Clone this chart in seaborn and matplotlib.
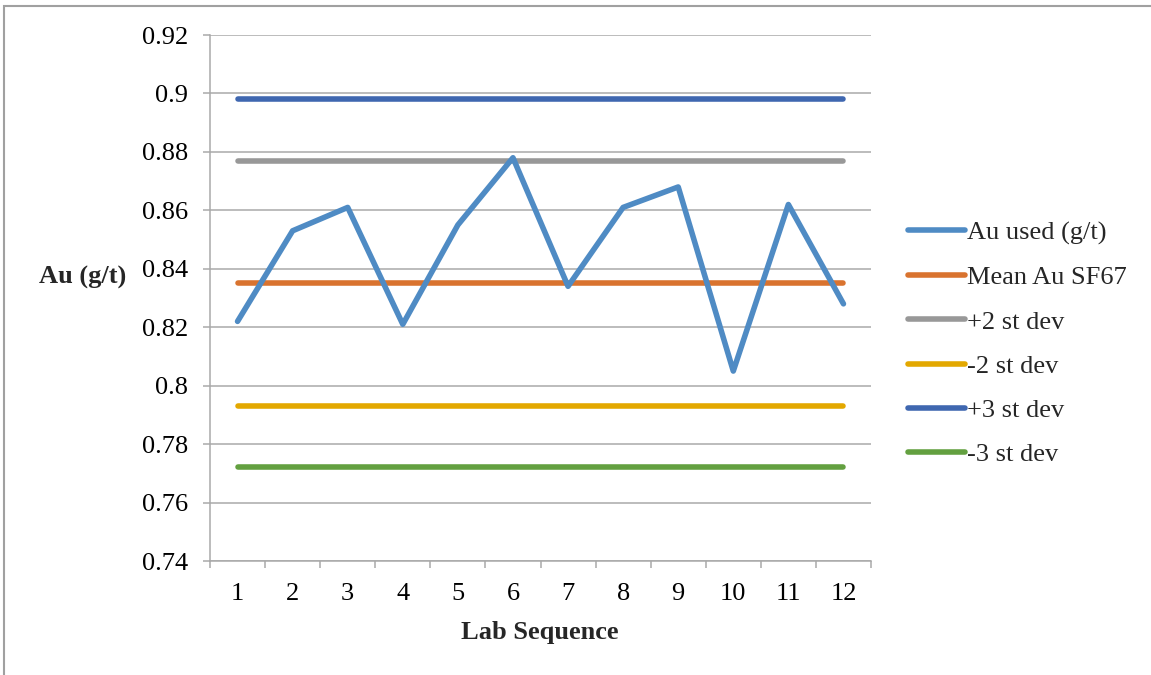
import matplotlib
matplotlib.use("Agg")
import matplotlib.pyplot as plt
import seaborn as sns
import pandas as pd
from matplotlib.patches import Rectangle
from matplotlib.lines import Line2D

# ---- data ----
lab_sequence = [1, 2, 3, 4, 5, 6, 7, 8, 9, 10, 11, 12]
au_used = [0.822, 0.853, 0.861, 0.821, 0.855, 0.878, 0.834, 0.861, 0.868, 0.805, 0.862, 0.828]
mean_au = 0.835
plus2 = 0.877
minus2 = 0.793
plus3 = 0.898
minus3 = 0.772
series_names = ["Au used (g/t)", "Mean Au SF67", "+2 st dev", "-2 st dev", "+3 st dev", "-3 st dev"]
colors = ["#4F8BC4", "#D9732F", "#989898", "#E3A800", "#3F67B0", "#63A040"]
y_ticks = [0.74, 0.76, 0.78, 0.80, 0.82, 0.84, 0.86, 0.88, 0.90, 0.92]
y_tick_labels = ["0.74", "0.76", "0.78", "0.8", "0.82", "0.84", "0.86", "0.88", "0.9", "0.92"]

values = {
    series_names[0]: au_used,
    series_names[1]: [mean_au] * len(lab_sequence),
    series_names[2]: [plus2] * len(lab_sequence),
    series_names[3]: [minus2] * len(lab_sequence),
    series_names[4]: [plus3] * len(lab_sequence),
    series_names[5]: [minus3] * len(lab_sequence),
}
rows = []
for name in series_names:
    for x, v in zip(lab_sequence, values[name]):
        rows.append({"Lab Sequence": x, "Au": v, "Series": name})
df = pd.DataFrame(rows)

sns.set_theme(style="white")
plt.rcParams["font.family"] = ["Liberation Serif", "DejaVu Serif"]

W, H = 1151, 675
fig = plt.figure(figsize=(W / 100, H / 100), dpi=100)
ax = fig.add_axes([210 / W, 1 - 561 / H, (871 - 210) / W, (561 - 35) / H])

palette = dict(zip(series_names, colors))
LW = 4.0
# draw the constant lines first, then Au used on top
order_draw = series_names[1:] + series_names[:1]
for i, name in enumerate(order_draw):
    sub = df[df["Series"] == name]
    sns.lineplot(data=sub, x="Lab Sequence", y="Au", color=palette[name], lw=LW,
                 ax=ax, legend=False, zorder=3 + i, solid_capstyle="round",
                 solid_joinstyle="round")

ax.set_xlim(0.5, 12.5)
ax.set_ylim(0.74, 0.92)
ax.set_yticks(y_ticks)
ax.set_yticklabels(y_tick_labels)
ax.set_xticks(lab_sequence)
ax.set_xticklabels([str(v) for v in lab_sequence])
ax.set_xticks([v + 0.5 for v in [0] + lab_sequence], minor=True)
ax.set_xlabel("")
ax.set_ylabel("")

grid_c = "#A9A9A9"
ax.yaxis.grid(True, color=grid_c, lw=1.1, zorder=0)
ax.xaxis.grid(False)
for s in ["top", "right"]:
    ax.spines[s].set_visible(False)
for s in ["left", "bottom"]:
    ax.spines[s].set_color(grid_c)
    ax.spines[s].set_linewidth(1.1)

ax.tick_params(axis="y", which="major", left=True, length=5, width=1.1, color=grid_c,
               pad=11, labelsize=19, labelcolor="black")
ax.tick_params(axis="x", which="major", bottom=False, length=0, pad=16, labelsize=19,
               labelcolor="black")
ax.tick_params(axis="x", which="minor", bottom=True, length=5, width=1.1, color=grid_c)

fig.text(83 / W, 1 - 277 / H, "Au (g/t)", ha="center", va="center", fontsize=19,
         fontweight="bold")
fig.text(540 / W, 1 - 632 / H, "Lab Sequence", ha="center", va="center", fontsize=19,
         fontweight="bold")

handles = [Line2D([0], [0], color=c, lw=LW, solid_capstyle="round") for c in colors]
fig.legend(handles, series_names, loc="upper left", bbox_to_anchor=(908 / W, 1 - 221 / H),
           frameon=False, fontsize=19, borderpad=0, handlelength=2.15, handletextpad=0.1,
           labelspacing=0.79, borderaxespad=0)

# outer chart border (left and top visible)
fig.patches.append(Rectangle((3.5 / W, -0.1), 1.2, 1 - 6.0 / H + 0.1, transform=fig.transFigure,
                             fill=False, edgecolor="#A0A0A0", lw=1.5))

fig.savefig("out.png", dpi=100)
